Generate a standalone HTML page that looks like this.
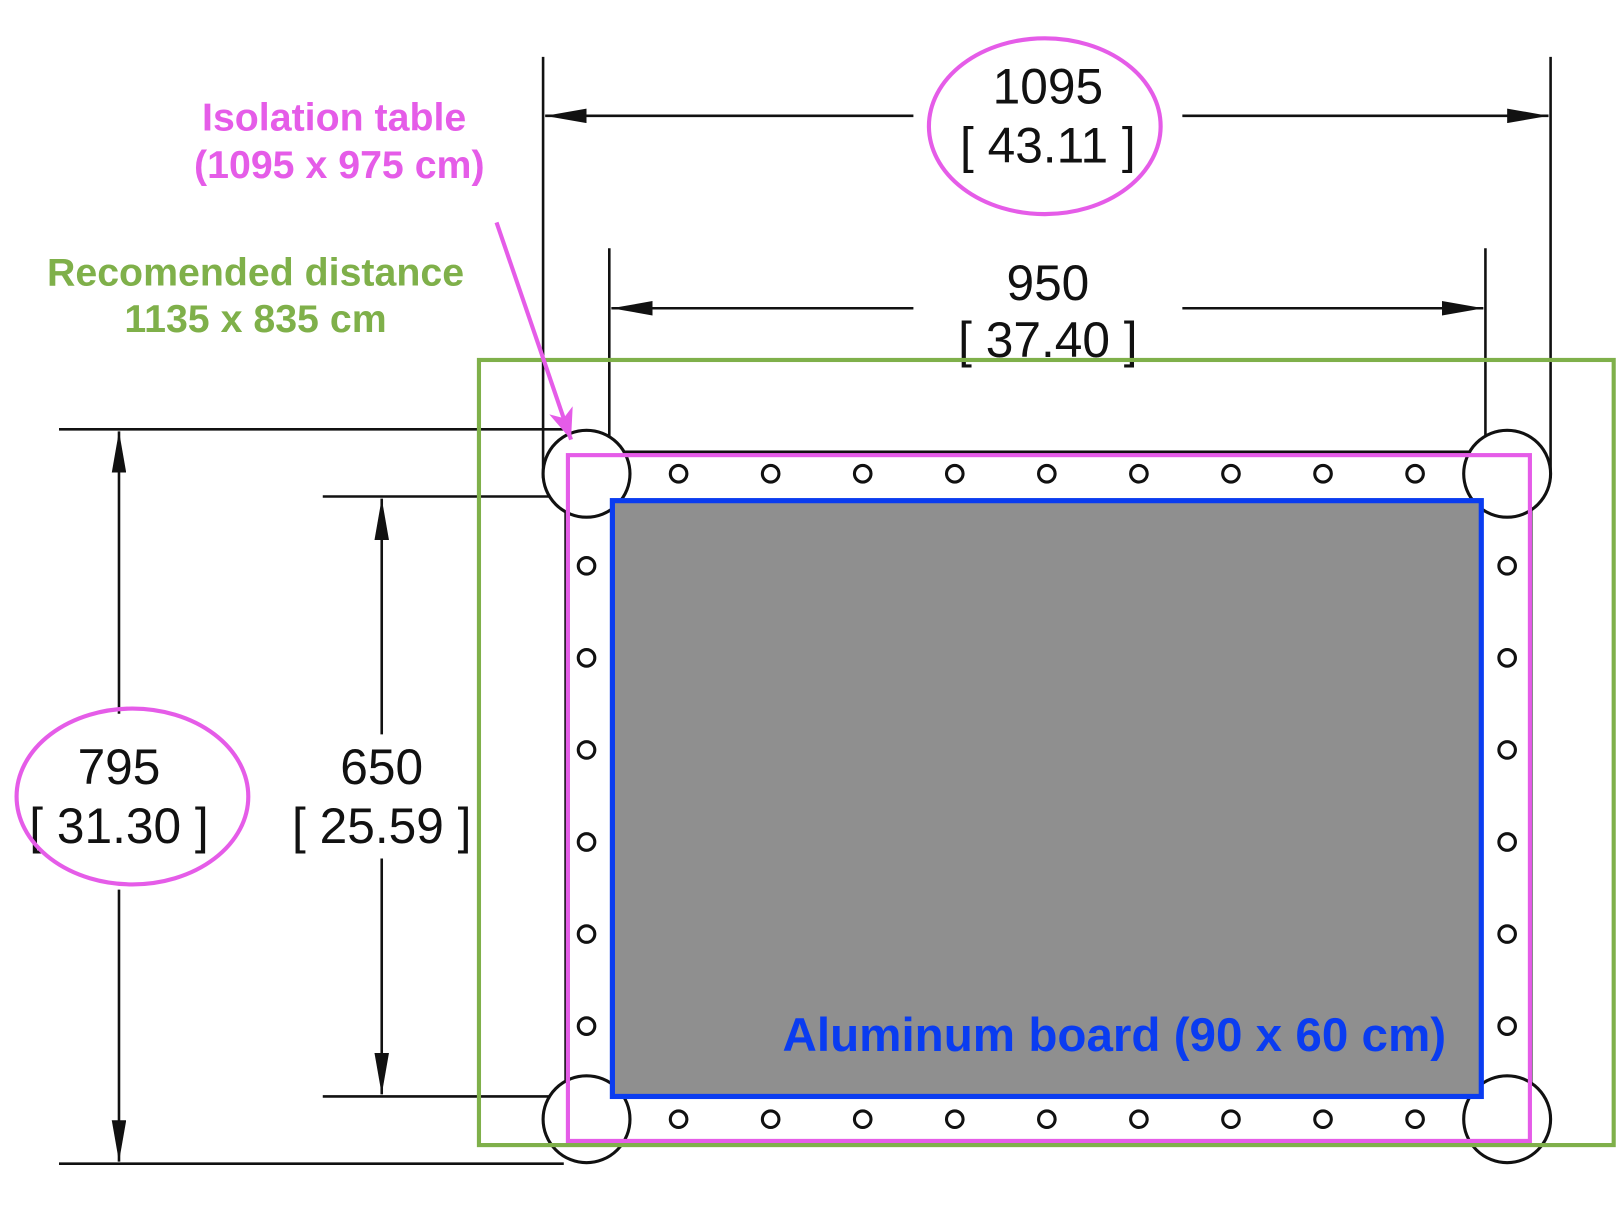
<!DOCTYPE html>
<html><head><meta charset="utf-8"><style>
html,body{margin:0;padding:0;background:#fff;}
svg{display:block;}
.num{font-family:"Liberation Sans",sans-serif;font-size:48px;fill:#111;text-anchor:middle;}
.lbl{font-family:"Liberation Sans",sans-serif;font-weight:bold;text-anchor:middle;}
</style></head><body>
<svg width="1622" height="1218" viewBox="0 0 1568 1177.5">
<defs>
<marker id="ah" viewBox="0 0 40 14" refX="40" refY="7" markerWidth="40" markerHeight="14" markerUnits="userSpaceOnUse" orient="auto"><path d="M0,0 L40,7 L0,14 Z" fill="#111"/></marker>
<marker id="ahm" viewBox="0 0 30 24" refX="30" refY="12" markerWidth="30" markerHeight="24" markerUnits="userSpaceOnUse" orient="auto"><path d="M0,0 L30,12 L0,24 L8,12 Z" fill="#e55ce8"/></marker>
</defs>
<g stroke="#111" stroke-width="2.5" fill="none">
<line x1="525" y1="55" x2="525" y2="462"/><line x1="1499" y1="55" x2="1499" y2="462"/>
<line x1="883" y1="112" x2="527" y2="112" marker-end="url(#ah)"/><line x1="1143" y1="112" x2="1497" y2="112" marker-end="url(#ah)"/>
<line x1="589" y1="240" x2="589" y2="470"/><line x1="1436" y1="240" x2="1436" y2="470"/>
<line x1="883" y1="298" x2="591" y2="298" marker-end="url(#ah)"/><line x1="1143" y1="298" x2="1434" y2="298" marker-end="url(#ah)"/>
<line x1="57" y1="415" x2="545" y2="415"/><line x1="57" y1="1125" x2="545" y2="1125"/>
<line x1="115" y1="690" x2="115" y2="417" marker-end="url(#ah)"/><line x1="115" y1="860" x2="115" y2="1123" marker-end="url(#ah)"/>
<line x1="312" y1="480" x2="590" y2="480"/><line x1="312" y1="1060" x2="590" y2="1060"/>
<line x1="369" y1="710" x2="369" y2="482" marker-end="url(#ah)"/><line x1="369" y1="830" x2="369" y2="1058" marker-end="url(#ah)"/>
</g>
<text class="num" x="1013" y="100">1095</text>
<text class="num" x="1013" y="157">[ 43.11 ]</text>
<text class="num" x="1013" y="290">950</text>
<text class="num" x="1013" y="345">[ 37.40 ]</text>
<text class="num" x="115" y="758">795</text>
<text class="num" x="115" y="815">[ 31.30 ]</text>
<text class="num" x="369" y="758">650</text>
<text class="num" x="369" y="815">[ 25.59 ]</text>
<ellipse cx="1010" cy="122" rx="112" ry="85" fill="none" stroke="#e55ce8" stroke-width="4"/>
<ellipse cx="128" cy="770" rx="112" ry="85" fill="none" stroke="#e55ce8" stroke-width="4"/>
<rect x="547" y="437" width="933" height="668" fill="#fff" stroke="#111" stroke-width="3"/>
<g fill="#fff" stroke="#111" stroke-width="3">
<circle cx="567" cy="458" r="42"/><circle cx="1457" cy="458" r="42"/><circle cx="567" cy="1082" r="42"/><circle cx="1457" cy="1082" r="42"/>
</g>
<rect x="592" y="484" width="840" height="576" fill="#8f8f8f" stroke="#0a3cf0" stroke-width="5"/>
<g fill="none" stroke="#111" stroke-width="3" id="holes"></g>
<rect x="549" y="440" width="930" height="663" fill="none" stroke="#e55ce8" stroke-width="4"/>
<rect x="463" y="348" width="1097" height="759" fill="none" stroke="#7fb04a" stroke-width="4"/>
<line x1="480" y1="215" x2="552" y2="425" stroke="#e55ce8" stroke-width="4" marker-end="url(#ahm)"/>
<text class="lbl" x="323" y="126" font-size="38" fill="#e55ce8">Isolation table</text>
<text class="lbl" x="328" y="172" font-size="38" fill="#e55ce8">(1095 x 975 cm)</text>
<text class="lbl" x="247" y="276" font-size="38" fill="#7fb04a">Recomended distance</text>
<text class="lbl" x="247" y="321" font-size="38" fill="#7fb04a">1135 x 835 cm</text>
<text class="lbl" x="1398" y="1016" font-size="46" fill="#0a3cf0" style="text-anchor:end">Aluminum board (90 x 60 cm)</text>
</svg>
<script>
const g=document.getElementById('holes');
const ns='http://www.w3.org/2000/svg';
function hole(x,y){const c=document.createElementNS(ns,'circle');c.setAttribute('cx',x);c.setAttribute('cy',y);c.setAttribute('r',8);


g.appendChild(c);}
for(let i=0;i<9;i++){const x=656+i*89;hole(x,458);hole(x,1082);}
for(let i=0;i<6;i++){const y=547+i*89;hole(567,y);hole(1457,y);}
</script>
</body></html>
